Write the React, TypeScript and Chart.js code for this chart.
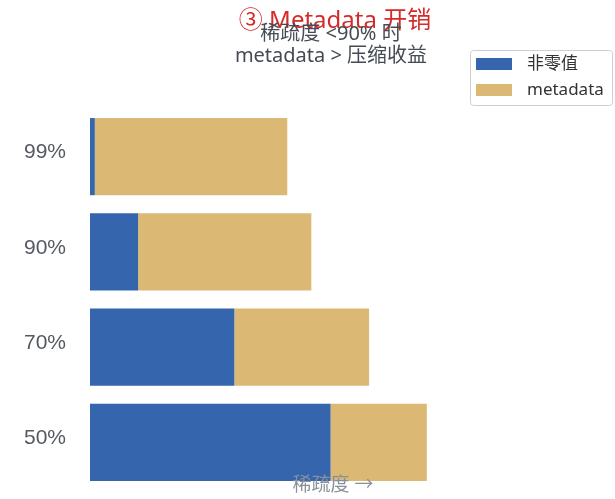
import React, { useEffect, useRef } from "react";
import { Chart, registerables } from "chart.js";

Chart.register(...registerables);

const categories = ["99%", "90%", "70%", "50%"];
const nonZeroValues = [1, 10, 30, 50];
const metadataValues = [40, 36, 28, 20];
const seriesNames = ["非零值", "metadata"];
const titleText = "③ Metadata 开销";
const subtitleLines = ["稀疏度 <90% 时", "metadata > 压缩收益"];
const xTitle = "稀疏度 →";

const FONT = "'Noto Sans', 'Noto Sans CJK SC', sans-serif";
const FONT_Y = "'Liberation Sans', 'Noto Sans CJK SC', sans-serif";
const BLUE = "#3565ad";
const GOLD = "#dbb974";

const textPlugin = {
  id: "customText",
  afterDraw(chart: any) {
    const ctx = chart.ctx;
    const area = chart.chartArea;
    const cx = (area.left + area.right) / 2;
    ctx.save();
    ctx.textBaseline = "middle";
    // y category labels
    const yScale = chart.scales.y;
    ctx.textAlign = "right";
    ctx.fillStyle = "#555a62";
    ctx.font = `21px ${FONT_Y}`;
    (chart.data.labels as string[]).forEach((lab, i) => {
      ctx.fillText(lab, 66, yScale.getPixelForTick(i) - 4);
    });
    ctx.textAlign = "center";
    // title
    ctx.fillStyle = "#d42a2a";
    ctx.font = `24px ${FONT}`;
    ctx.fillText(titleText, cx + 2, 21);
    // subtitle
    ctx.fillStyle = "#454b54";
    ctx.font = `20px ${FONT}`;
    ctx.fillText(subtitleLines[0], cx - 2, 34);
    ctx.fillText(subtitleLines[1], cx - 2, 56);
    // x title
    ctx.fillStyle = "#8a9099";
    ctx.font = `19px ${FONT}`;
    ctx.fillText(xTitle, cx, 486);
    // legend
    const lx = 470, ly = 50, lw = 142, lh = 55;
    ctx.fillStyle = "rgba(255,255,255,0.9)";
    ctx.strokeStyle = "#cfcfcf";
    ctx.lineWidth = 1;
    ctx.beginPath();
    (ctx as any).roundRect(lx + 0.5, ly + 0.5, lw, lh, 3);
    ctx.fill();
    ctx.stroke();
    const datasets = chart.data.datasets;
    ctx.textAlign = "left";
    ctx.font = `17px ${FONT}`;
    datasets.forEach((ds: any, i: number) => {
      const y = 64 + i * 26;
      ctx.fillStyle = ds.backgroundColor;
      ctx.fillRect(476, y - 6, 36, 12);
      ctx.fillStyle = "#333";
      ctx.fillText(ds.label, 527, y);
    });
    ctx.restore();
  },
};

export default function App() {
  const ref = useRef<HTMLCanvasElement>(null);
  useEffect(() => {
    document.body.style.margin = "0";
    const chart = new Chart(ref.current!, {
      type: "bar",
      data: {
        labels: categories,
        datasets: [
          { label: seriesNames[0], data: nonZeroValues, backgroundColor: BLUE, barPercentage: 0.81, categoryPercentage: 1 },
          { label: seriesNames[1], data: metadataValues, backgroundColor: GOLD, barPercentage: 0.81, categoryPercentage: 1 },
        ],
      },
      options: {
        indexAxis: "y",
        animation: false,
        responsive: false,
        maintainAspectRatio: false,
        layout: { padding: { top: 109, bottom: 9, right: 39, left: 0 } },
        plugins: {
          legend: { display: false },
          title: { display: false },
          tooltip: { enabled: false },
        },
        scales: {
          x: { stacked: true, display: false, min: 0, max: 101 },
          y: {
            stacked: true,
            grid: { display: false, drawTicks: false },
            border: { display: false },
            ticks: { display: false },
            afterFit(scale: any) {
              scale.width = 90;
            },
          },
        },
      },
      plugins: [textPlugin],
    });
    return () => chart.destroy();
  }, []);
  return <canvas ref={ref} width={615} height={499} style={{ display: "block" }} />;
}
